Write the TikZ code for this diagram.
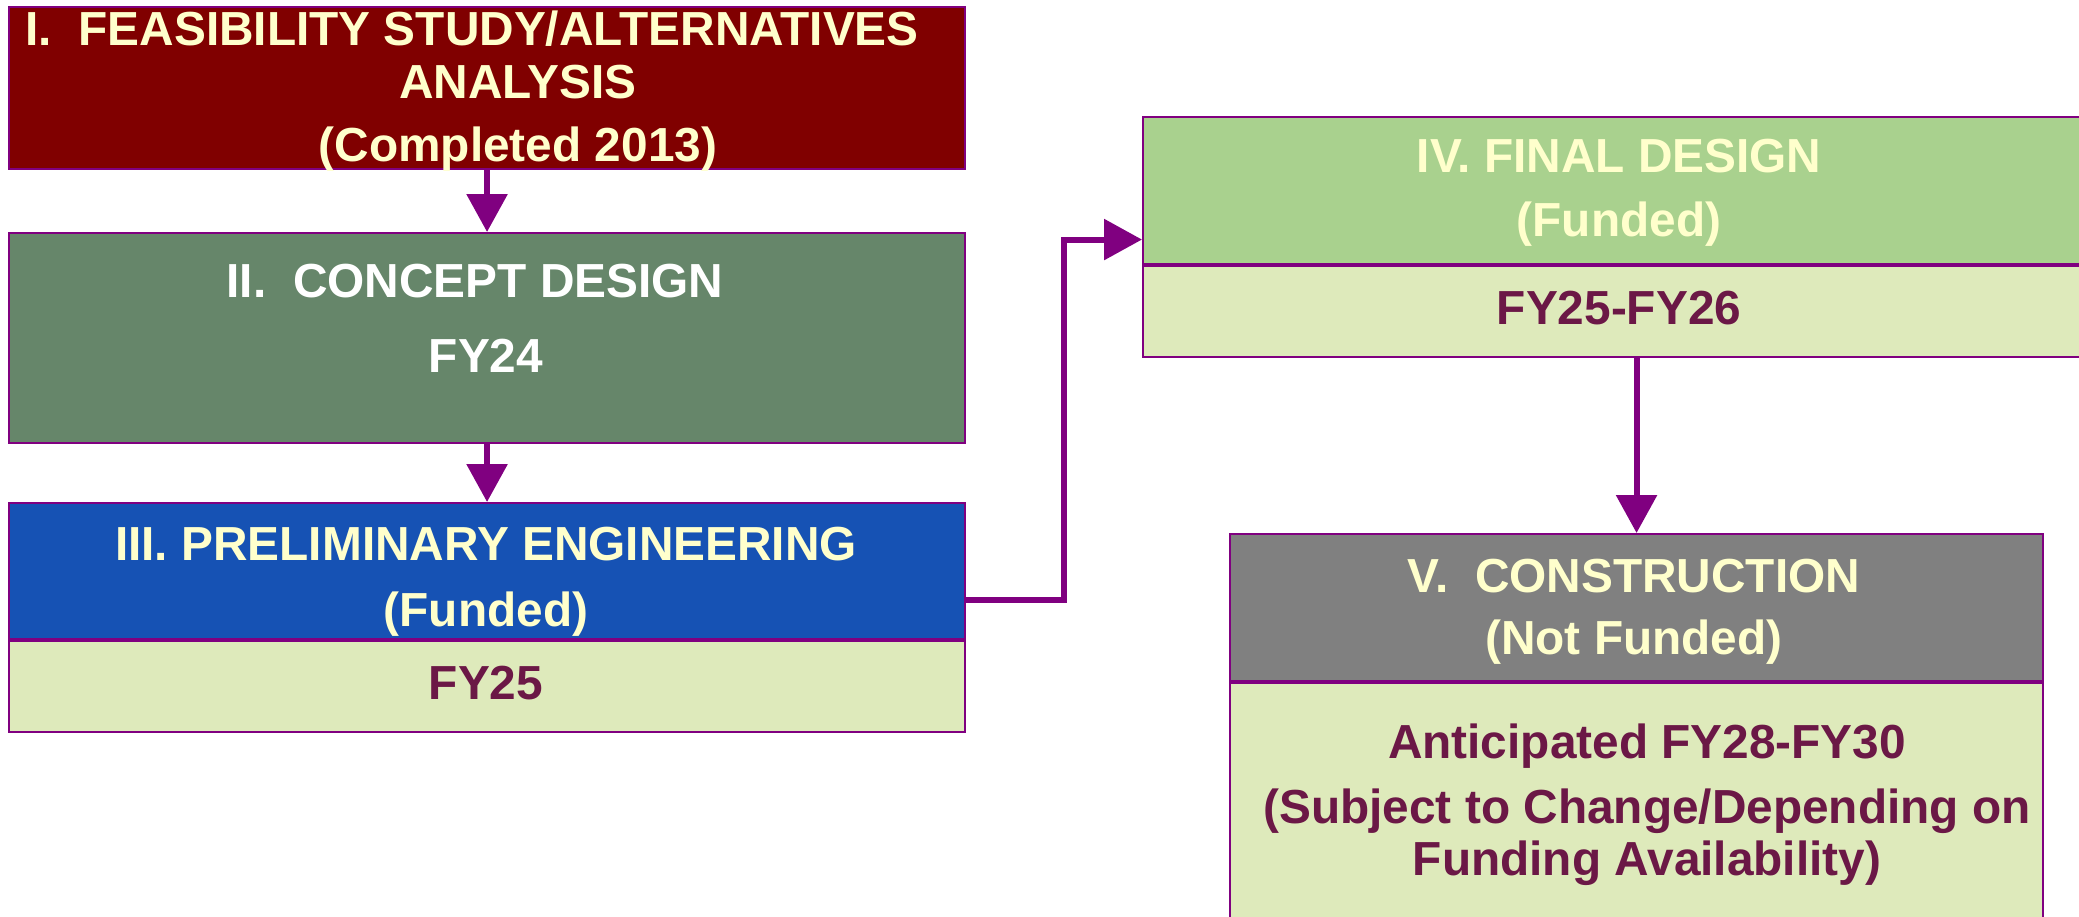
\documentclass[tikz,border=0pt]{standalone}
\usepackage{fontspec}
\setmainfont{Liberation Sans}
\usepackage{tikz}
\usetikzlibrary{arrows.meta,positioning}

\definecolor{phaseborder}{HTML}{800080}
\definecolor{feasred}{HTML}{800000}
\definecolor{conceptgreen}{HTML}{66866A}
\definecolor{prelimblue}{HTML}{1652B4}
\definecolor{finalgreen}{HTML}{A9D18E}
\definecolor{constrgray}{HTML}{808080}
\definecolor{fypale}{HTML}{DEEABB}
\definecolor{capcream}{HTML}{FFFFCC}
\definecolor{fymaroon}{HTML}{6B1846}

\tikzset{
  phase/.style={draw=phaseborder, line width=0.6pt, inner sep=0pt,
    anchor=north west, minimum width=95.6mm},
  captext/.style={text=capcream, inner sep=0pt, anchor=north, align=center,
    font=\bfseries\fontsize{13.6}{#1}\selectfont},
  captext/.default=18,
  fytext/.style={captext=#1, text=fymaroon},
  fytext/.default=18,
  flow/.style={draw=phaseborder, line width=1.7pt,
    -{Triangle[width=4mm,length=3.8mm]}}
}

\begin{document}
\begin{tikzpicture}[x=0.1mm,y=-0.1mm]
  \useasboundingbox (0,0) rectangle (2079,917);

  % boxes
  \node[phase, fill=feasred, minimum height=16.2mm] (feas) at (8,6) {};
  \node[phase, fill=conceptgreen, minimum height=21mm] (concept) at (8,232) {};
  \node[phase, fill=prelimblue, minimum height=13.6mm] (prelim) at (8,502) {};
  \node[phase, fill=fypale, minimum height=9.1mm, below=0pt of prelim] (prelimfy) {};
  \node[phase, fill=finalgreen, minimum height=14.7mm] (final) at (1142,116) {};
  \node[phase, fill=fypale, minimum height=9.1mm, below=0pt of final] (finalfy) {};
  \node[phase, fill=constrgray, minimum height=14.7mm, minimum width=81.3mm] (constr) at (1229,533) {};
  \node[phase, fill=fypale, minimum height=26mm, minimum width=81.3mm, below=0pt of constr] (constrfy) {};

  % texts
  \node[captext=15.08] (feastxt) at (518,10)
    {I.\ \ FEASIBILITY STUDY/ALTERNATIVES\hspace*{9.2mm}\\ANALYSIS\\[2.85pt](Completed 2013)};
  \node[captext=21.34, text=white] (concepttxt) at (486,263)
    {II.\ \ CONCEPT DESIGN\hspace*{2.2mm}\\FY24};
  \node[captext=18.78] (prelimtxt) at (486,526) {III. PRELIMINARY ENGINEERING\\(Funded)};
  \node[fytext] (prelimfytxt) at (486,665) {FY25};
  \node[captext=18.2] (finaltxt) at (1619,138) {IV. FINAL DESIGN\\(Funded)};
  \node[fytext] (finalfytxt) at (1619,290) {FY25-FY26};
  \node[captext=17.64] (constrtxt) at (1634,558) {V.\ \ CONSTRUCTION\\(Not Funded)};
  \node[fytext=14.8] (constrfytxt) at (1647,723)
    {Anticipated FY28-FY30\\[3.7pt](Subject to Change/Depending on\\Funding Availability)};

  % arrows
  \draw[flow] (feas.south) -- (concept.north);
  \draw[flow] (concept.south) -- (prelim.north);
  \draw[flow] ([yshift=-2.9mm]prelim.east) -- ++(98,0) |- ([yshift=-4.9mm]final.west);
  \draw[flow] (finalfy.south -| constr.north) -- (constr.north);
\end{tikzpicture}
\end{document}
